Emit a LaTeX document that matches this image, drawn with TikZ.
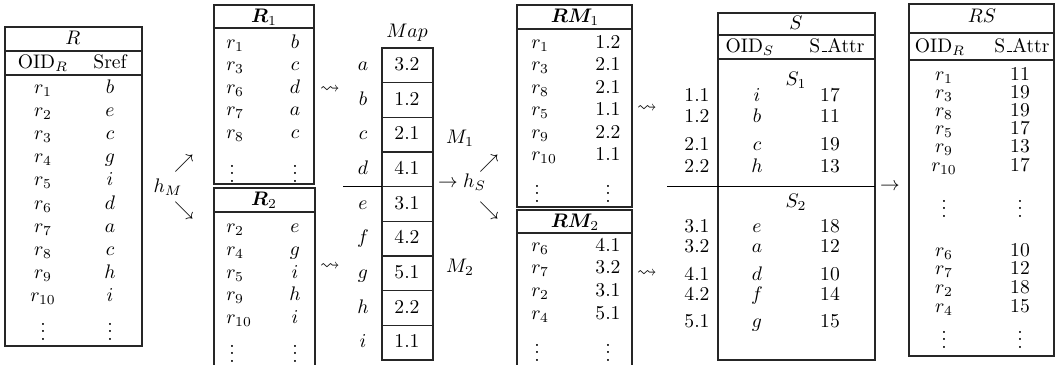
\documentclass[tikz,border=0pt]{standalone}
\usepackage{amssymb}
\usepackage{bm}
\newcommand{\attrname}{S\kern.06em\vbox{\hrule width.3em}Attr}
\begin{document}
\begin{tikzpicture}[x=0.51pt,y=-0.51pt,
  cell/.style={inner sep=0pt,text height=1.4ex,text depth=.2ex},
  dotcell/.style={inner sep=0pt},
  tab/.style={line width=0.6pt,black!85}]
  \useasboundingbox (0,0) rectangle (1057,365);
  % Relation R
  \draw[tab] (5,27) rectangle (142,346);
  \draw[tab] (5,51) -- (142,51) (5,75) -- (142,75);
  \node[cell] (R-name) at (73,39) {$R$};
  \node[cell] (R-oid) at (43,63) {OID$_R$};
  \node[cell] (R-sref) at (110,63) {Sref};
  \foreach \r/\s [count=\i] in {1/b,2/e,3/c,4/g,5/i,6/d,7/a,8/c,9/h,10/i} {
    \node[cell] (R-o\i) at (43,64.8+23.2*\i) {$r_{\r}$};
    \node[cell] (R-s\i) at (110,64.8+23.2*\i) {$\s$};
  }
  \node[dotcell] (R-d1) at (43,326) {$\vdots$};
  \node[dotcell] (R-d2) at (110,326) {$\vdots$};
  % Split by h_M
  \node[cell] (hM) at (168,187) {$h_M$};
  \node[cell] (hM-up) at (184,163) {$\nearrow$};
  \node[cell] (hM-dn) at (184,210) {$\searrow$};
  % Fragments R1 and R2
  \draw[tab] (214,5) rectangle (314,184);
  \draw[tab] (214,28) -- (314,28);
  \node[cell] (R1-name) at (264,17) {$\bm{R}_1$};
  \foreach \r/\s/\y in {1/b/43,3/c/65,6/d/88,7/a/110,8/c/133} {
    \node[cell,anchor=west] (R1-o\r) at (226,\y) {$r_{\r}$};
    \node[cell] (R1-s\r) at (295,\y) {$\s$};
  }
  \node[dotcell] (R1-d1) at (232,168) {$\vdots$};
  \node[dotcell] (R1-d2) at (295,168) {$\vdots$};
  \draw[tab] (214,366) -- (214,188) -- (315,188) -- (315,366);
  \draw[tab] (214,212) -- (315,212);
  \node[cell] (R2-name) at (264,200) {$\bm{R}_2$};
  \foreach \r/\s/\y in {2/e/227,4/g/250,5/i/273,9/h/295,10/i/318} {
    \node[cell,anchor=west] (R2-o\r) at (226,\y) {$r_{\r}$};
    \node[cell] (R2-s\r) at (295,\y) {$\s$};
  }
  \node[dotcell] (R2-d1) at (232,348) {$\vdots$};
  \node[dotcell] (R2-d2) at (295,348) {$\vdots$};
  \node[cell] (R1-to) at (330,88) {$\leadsto$};
  \node[cell] (R2-to) at (330,265) {$\leadsto$};
  % Map table
  \node[cell] (map-name) at (407,32) {$Map$};
  \draw[tab] (382,48) rectangle (433,360);
  \foreach \k in {1,...,8}
    \draw[tab] (382,48+34.67*\k) -- (433,48+34.67*\k);
  \draw (343,186.7) -- (382,186.7);
  \foreach \m/\v [count=\k] in {a/3.2,b/1.2,c/2.1,d/4.1,e/3.1,f/4.2,g/5.1,h/2.2,i/1.1} {
    \node[cell] (map-k\k) at (363,30.67+34.67*\k) {$\m$};
    \node[cell] (map-v\k) at (407,30.67+34.67*\k) {\v};
  }
  \node[cell] (M1) at (460,138) {$M_1$};
  \node[cell] (M2) at (460,267) {$M_2$};
  % Split by h_S
  \node[cell] (hS) at (462,182) {$\rightarrow h_S$};
  \node[cell] (hS-up) at (489,163) {$\nearrow$};
  \node[cell] (hS-dn) at (489,210) {$\searrow$};
  % Fragments RM1 and RM2
  \draw[tab] (517,5) rectangle (632,207);
  \draw[tab] (517,29) -- (632,29);
  \node[cell] (RM1-name) at (575,17) {$\bm{RM}_1$};
  \foreach \r/\v/\y in {1/1.2/43,3/2.1/65,8/2.1/88,5/1.1/110,9/2.2/133,10/1.1/155} {
    \node[cell,anchor=west] (RM1-o\r) at (531,\y) {$r_{\r}$};
    \node[cell] (RM1-v\r) at (608,\y) {\v};
  }
  \node[dotcell] (RM1-d1) at (537,188) {$\vdots$};
  \node[dotcell] (RM1-d2) at (608,188) {$\vdots$};
  \draw[tab] (517,366) -- (517,210) -- (632,210) -- (632,366);
  \draw[tab] (517,233) -- (632,233);
  \node[cell] (RM2-name) at (575,222) {$\bm{RM}_2$};
  \foreach \r/\v/\y in {6/4.1/246,7/3.2/268,2/3.1/291,4/5.1/314} {
    \node[cell,anchor=west] (RM2-o\r) at (531,\y) {$r_{\r}$};
    \node[cell] (RM2-v\r) at (608,\y) {\v};
  }
  \node[dotcell] (RM2-d1) at (537,347) {$\vdots$};
  \node[dotcell] (RM2-d2) at (608,347) {$\vdots$};
  \node[cell] (RM1-to) at (647,107) {$\leadsto$};
  \node[cell] (RM2-to) at (647,272) {$\leadsto$};
  % Relation S
  \draw[tab] (718,13) rectangle (875,360);
  \draw[tab] (718,35) -- (875,35) (718,59) -- (875,59);
  \draw (667,186) -- (875,186);
  \node[cell] (S-name) at (796,24) {$S$};
  \node[cell] (S-oid) at (750,47) {OID$_S$};
  \node[cell] (S-attr) at (837,47) {\attrname};
  \node[cell] (S1) at (796,80) {$S_1$};
  \node[cell] (S2) at (796,202) {$S_2$};
  \foreach \n/\l/\v/\y [count=\i] in {1.1/i/17/96,1.2/b/11/117,2.1/c/19/145,2.2/h/13/167,
      3.1/e/18/227,3.2/a/12/247,4.1/d/10/275,4.2/f/14/295,5.1/g/15/322} {
    \node[cell] (S-n\i) at (697,\y) {\n};
    \node[cell] (S-l\i) at (757,\y) {$\l$};
    \node[cell] (S-v\i) at (830,\y) {\v};
  }
  \node[cell] (S-to) at (890,185) {$\rightarrow$};
  % Result RS
  \draw[tab] (909,4) rectangle (1054,356);
  \draw[tab] (909,33) -- (1054,33) (909,60) -- (1054,60);
  \node[cell] (RS-name) at (982,17) {$RS$};
  \node[cell] (RS-oid) at (940,47) {OID$_R$};
  \node[cell] (RS-attr) at (1022,47) {\attrname};
  \foreach \r/\v/\y in {1/11/75,3/19/93,8/19/111,5/17/129,9/13/147,10/17/166,
      6/10/251,7/12/269,2/18/288,4/15/307} {
    \node[cell] (RS-o\r) at (944,\y) {$r_{\r}$};
    \node[cell] (RS-v\r) at (1020,\y) {\v};
  }
  \node[dotcell] (RS-d1) at (944,203) {$\vdots$};
  \node[dotcell] (RS-d2) at (1020,203) {$\vdots$};
  \node[dotcell] (RS-d3) at (944,334) {$\vdots$};
  \node[dotcell] (RS-d4) at (1020,334) {$\vdots$};
\end{tikzpicture}
\end{document}
